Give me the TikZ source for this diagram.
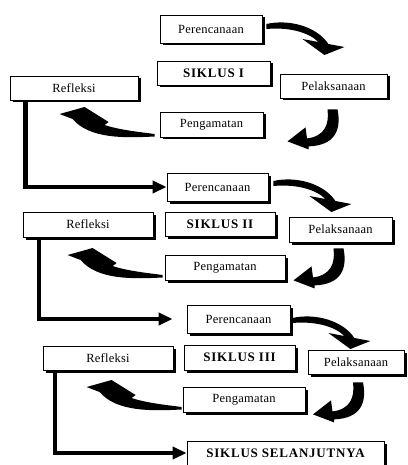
\documentclass[tikz,border=0pt]{standalone}
\usepackage{fontspec}
\setmainfont{Liberation Serif}
\usetikzlibrary{shadows,arrows.meta}
\tikzset{
  box/.style={draw=black, line width=0.8pt, fill=white, inner sep=0pt,
    font=\fontsize{12.5}{14}\selectfont\addfontfeature{LetterSpace=2},
    drop shadow={shadow xshift=2.5pt,shadow yshift=-2.5pt,fill=black,opacity=1}},
  boldbox/.style={box, font=\fontsize{13}{14}\selectfont\bfseries\addfontfeature{LetterSpace=6}},
  conn/.style={line width=4.5pt, -{Triangle[length=14pt,width=12pt]}},
  arrA/.pic={\fill[black] (0,-2) .. controls (22,-7) and (50,0) .. (62,18)
      -- (78,21) -- (58,29) -- (36,13) -- (52,16)
      .. controls (42,6) and (22,1) .. (0,3) -- cycle;},
  arrB/.pic={\fill[black] (-5,0) -- (5,0) .. controls (9,20) and (3,36) .. (-24,37)
      -- (-24,40) -- (-45,32) -- (-27,18) -- (-25.5,29)
      .. controls (-8,27) and (-3,15) .. (-5,0) -- cycle;},
  arrC/.pic={\fill[black] (0,0) -- (0,2.5) .. controls (-30,4) and (-65,5) .. (-82,-15)
      -- (-95,-20) -- (-70,-27) -- (-46,-12) -- (-50,-9)
      .. controls (-35,-4) and (-15,-2) .. (0,0) -- cycle;},
}
\begin{document}
\begin{tikzpicture}[x=1pt,y=-1pt]
\useasboundingbox (0,0) rectangle (407,465);
\clip (0,0) rectangle (407,465);

% Cycle I
\node[box, minimum width=102pt, minimum height=28pt] (P1) at (211,29) {Perencanaan};
\node[boldbox, minimum width=113pt, minimum height=24pt] (S1) at (213.5,73) {SIKLUS I};
\node[box, minimum width=128pt, minimum height=24pt] (R1) at (74,88) {Refleksi};
\node[box, minimum width=107pt, minimum height=24pt] (L1) at (333.5,86) {Pelaksanaan};
\node[box, minimum width=103pt, minimum height=25pt] (G1) at (211.5,124.5) {Pengamatan};

% Cycle II
\node[box, minimum width=101pt, minimum height=28pt] (P2) at (217.5,187) {Perencanaan};
\node[boldbox, minimum width=110pt, minimum height=24pt] (S2) at (220,224) {SIKLUS II};
\node[box, minimum width=130pt, minimum height=25pt] (R2) at (88,224.5) {Refleksi};
\node[box, minimum width=103pt, minimum height=25pt] (L2) at (340.5,229.5) {Pelaksanaan};
\node[box, minimum width=120pt, minimum height=25pt] (G2) at (225,267.5) {Pengamatan};

% Cycle III
\node[box, minimum width=103pt, minimum height=28pt] (P3) at (238.5,319) {Perencanaan};
\node[boldbox, minimum width=111pt, minimum height=25pt] (S3) at (239.5,357.5) {SIKLUS III};
\node[box, minimum width=130pt, minimum height=24pt] (R3) at (108,358) {Refleksi};
\node[box, minimum width=96pt, minimum height=24pt] (L3) at (356,362) {Pelaksanaan};
\node[box, minimum width=122pt, minimum height=25pt] (G3) at (244,399.5) {Pengamatan};

\node[boldbox, minimum width=197pt, minimum height=24pt] (SS) at (285.5,453) {SIKLUS SELANJUTNYA};

% connectors between cycles
\coordinate (k1) at (25.5,0);
\coordinate (k2) at (39,0);
\coordinate (k3) at (55,0);
\draw[conn] (R1.south -| k1) |- (P2.west);
\draw[conn, shorten >=14pt] (R2.south -| k2) |- (P3.west);
\draw[conn] (R3.south -| k3) |- (SS.west);

% curved block arrows
\pic at ([shift={(4,-3)}]P1.east) {arrA};
\pic at ([shift={(5,-4)}]P2.east) {arrA};
\pic at ([shift={(2,1)}]P3.east) {arrA};

\pic at ([shift={(-1,11)}]L1.south) {arrB};
\pic at ([shift={(-2,6)}]L2.south) {arrB};
\pic at ([shift={(2,8)}]L3.south) {arrB};

\pic at ([shift={(-5,9.5)}]G1.west) {arrC};
\pic at ([shift={(-2,7.5)}]G2.west) {arrC};
\pic at ([shift={(-1,7.5)}]G3.west) {arrC};
\end{tikzpicture}
\end{document}
